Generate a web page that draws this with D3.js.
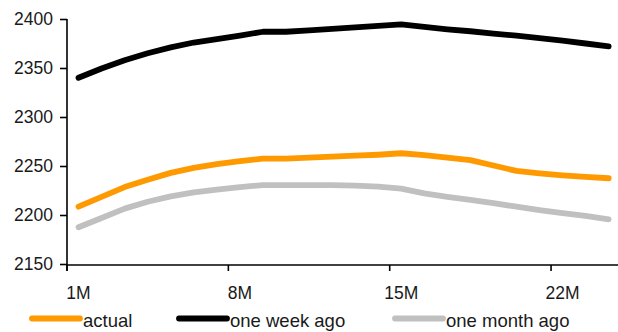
<!DOCTYPE html>
<html>
<head>
<meta charset="utf-8">
<script src="https://cdn.jsdelivr.net/npm/d3@7"></script>
<style>
  html, body { margin: 0; padding: 0; background: #fff; }
  svg { display: block; }
  text { font-family: "Liberation Sans", Arial, Helvetica, sans-serif; fill: #1a1a1a; }
</style>
</head>
<body>
<svg id="chart" width="618" height="332"></svg>
<script>
// Curve tenors, 1M .. 24M
const months = d3.range(1, 25).map(m => m + "M");

// Curve levels per tenor
const actual = [2208.5, 2218.5, 2228.5, 2236, 2243, 2248, 2252, 2255, 2257.5, 2257.5, 2258.5, 2259.5,
                2260.5, 2261.5, 2263, 2261, 2258.5, 2256, 2250.5, 2245, 2242.5, 2240.5, 2239, 2237.5];
const oneWeekAgo = [2340, 2349.5, 2358, 2365, 2371, 2376, 2379.5, 2383, 2387, 2387, 2388.5, 2390,
                    2391.5, 2393, 2394.5, 2392, 2389.5, 2387.5, 2385, 2383, 2380.5, 2378, 2375, 2372];
const oneMonthAgo = [2187.5, 2197, 2206.5, 2213.5, 2219, 2223, 2226, 2228.5, 2230.5, 2230.5, 2230.5, 2230.5,
                     2230, 2229, 2227, 2222, 2218.5, 2215.5, 2212, 2208.5, 2205, 2202, 2199, 2195.5];

const yTicks = [2150, 2200, 2250, 2300, 2350, 2400];
const xTickLabels = ["1M", "8M", "15M", "22M"];

const series = [
  { name: "actual", values: actual, color: "#ff9900" },
  { name: "one week ago", values: oneWeekAgo, color: "#000000" },
  { name: "one month ago", values: oneMonthAgo, color: "#c0c0c0" }
];

const svg = d3.select("#chart");

const plotLeft = 67, plotRight = 620.2, plotTop = 19, plotBottom = 264;

const x = d3.scaleBand().domain(months).range([plotLeft, plotRight]).padding(0);
const y = d3.scaleLinear().domain([2150, 2400]).range([plotBottom, plotTop]);
const cx = d => x(d) + x.bandwidth() / 2;

// Lines
const line = d3.line()
  .x((v, i) => cx(months[i]))
  .y(v => y(v));

// grey first, then orange, then black on top
[series[2], series[0], series[1]].forEach(s => {
  svg.append("path")
    .datum(s.values)
    .attr("d", line)
    .attr("fill", "none")
    .attr("stroke", s.color)
    .attr("stroke-width", 5.8)
    .attr("stroke-linecap", "round")
    .attr("stroke-linejoin", "round");
});

// Y axis
const yAxis = svg.append("g")
  .attr("transform", `translate(${plotLeft},0)`)
  .call(d3.axisLeft(y).tickValues(yTicks).tickSize(7).tickPadding(7).tickFormat(d3.format("d")));
yAxis.select(".domain").attr("stroke", "#000").attr("stroke-width", 1.6)
  .attr("d", `M0,${plotTop}V${plotBottom + 7}`);
yAxis.selectAll(".tick line").attr("stroke", "#000").attr("stroke-width", 1.6);
yAxis.selectAll(".tick text")
  .style("font-size", "17.5px")
  .style("font-family", "'Liberation Sans', Arial, sans-serif")
  .attr("fill", "#1a1a1a");

// X axis: ticks on category boundaries, labels centred in the category
const xAxis = svg.append("g");
xAxis.append("line")
  .attr("x1", plotLeft).attr("x2", 618)
  .attr("y1", plotBottom + 1).attr("y2", plotBottom + 1)
  .attr("stroke", "#000").attr("stroke-width", 1.6);
xAxis.selectAll("line.tick")
  .data(xTickLabels)
  .join("line")
  .attr("class", "tick")
  .attr("x1", d => x(d)).attr("x2", d => x(d))
  .attr("y1", plotBottom + 1).attr("y2", plotBottom + 7)
  .attr("stroke", "#000").attr("stroke-width", 1.6);
xAxis.selectAll("text")
  .data(xTickLabels)
  .join("text")
  .attr("x", d => cx(d))
  .attr("y", 299)
  .attr("text-anchor", "middle")
  .style("font-size", "17.5px")
  .text(d => d);

// Legend
const legendItems = [
  { s: series[0], x0: 32 },
  { s: series[1], x0: 179 },
  { s: series[2], x0: 395 }
];
const legend = svg.append("g");
legendItems.forEach(it => {
  legend.append("line")
    .attr("x1", it.x0).attr("x2", it.x0 + 48)
    .attr("y1", 318.5).attr("y2", 318.5)
    .attr("stroke", it.s.color)
    .attr("stroke-width", 5.8)
    .attr("stroke-linecap", "round");
  legend.append("text")
    .attr("x", it.x0 + 51)
    .attr("y", 327)
    .style("font-size", "18.5px")
    .text(it.s.name);
});
</script>
</body>
</html>
